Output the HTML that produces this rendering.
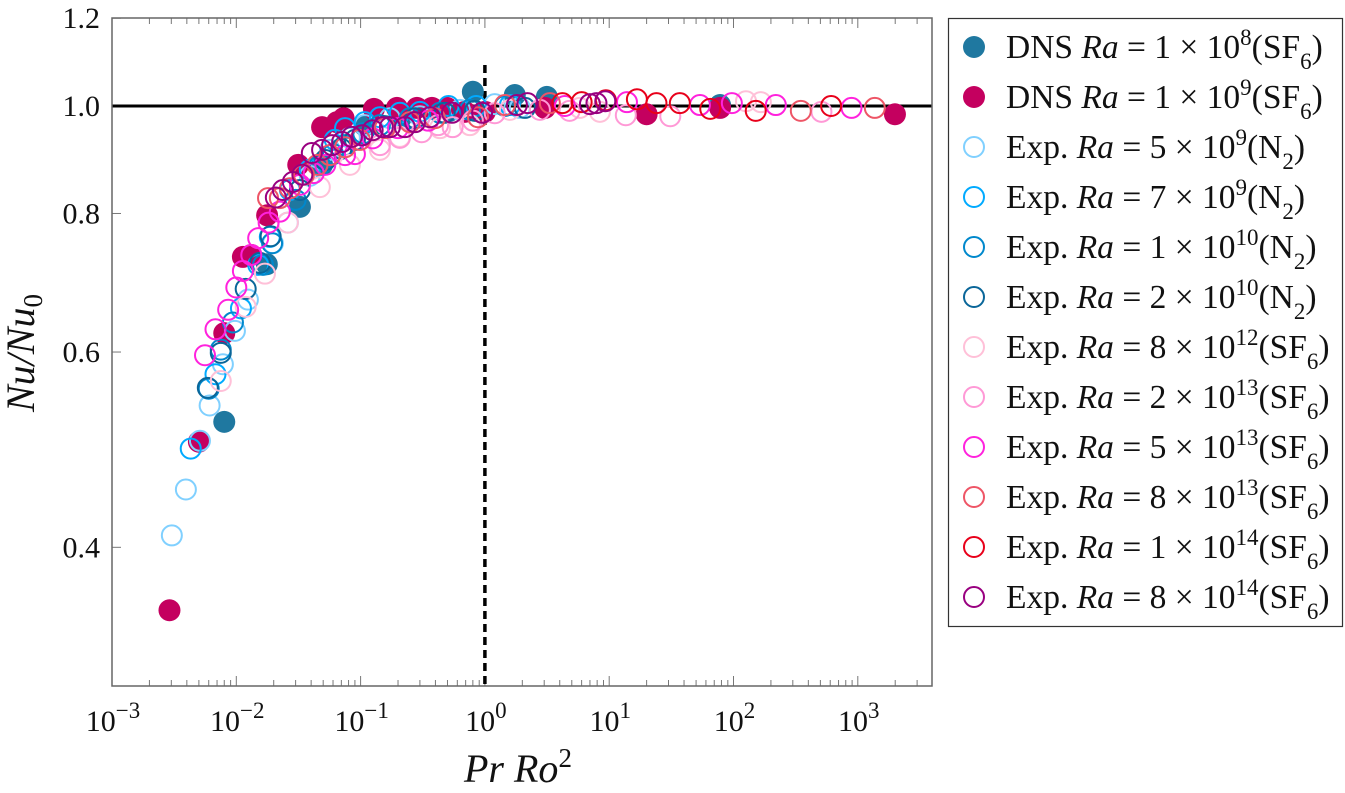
<!DOCTYPE html>
<html>
<head>
<meta charset="utf-8">
<title>Nu/Nu0 versus Pr Ro2</title>
<style>
html,body{margin:0;padding:0;background:#fff;}
svg{display:block;}
text{font-family:"Liberation Serif",serif;fill:#111;}
.tick{font-size:30px;}
.leg{font-size:33.5px;}
.it{font-style:italic;}
</style>
</head>
<body>
<svg id="chart" xmlns="http://www.w3.org/2000/svg" width="1345" height="793" viewBox="0 0 1345 793">
<rect width="1345" height="793" fill="#fff"/>
<g id="ticks"></g>
<line id="refH" stroke="#000" stroke-width="3"/>
<line id="refV" stroke="#000" stroke-width="3.5" stroke-dasharray="8 5"/>
<g id="marksOver"></g>
<rect x="112" y="18" width="820" height="668" fill="none" stroke="#666" stroke-width="1.5"/>
<g id="labels"></g>
<text x="464" y="782" font-size="40" class="it">Pr Ro<tspan dy="-15" font-size="27" font-style="normal">2</tspan></text>
<text transform="translate(34,412) rotate(-90)" font-size="40" class="it">Nu/Nu<tspan dy="8" font-size="27" font-style="normal">0</tspan></text>

<g>
<rect x="948.5" y="18.5" width="394" height="608" fill="#fff" stroke="#333" stroke-width="1.2"/>
<g><circle cx="974" cy="47" r="11" fill="#1f78a0"/><text class="leg" x="1006" y="58">DNS <tspan class="it">Ra</tspan> = 1 × 10<tspan dy="-13" font-size="23">8</tspan><tspan dy="13">(SF</tspan><tspan dy="11" font-size="23">6</tspan><tspan dy="-11">)</tspan></text></g>
<g><circle cx="974" cy="97" r="11" fill="#c4005f"/><text class="leg" x="1006" y="108">DNS <tspan class="it">Ra</tspan> = 1 × 10<tspan dy="-13" font-size="23">9</tspan><tspan dy="13">(SF</tspan><tspan dy="11" font-size="23">6</tspan><tspan dy="-11">)</tspan></text></g>
<g><circle cx="974" cy="147" r="10" fill="none" stroke="#80d0ff" stroke-width="2"/><text class="leg" x="1006" y="158">Exp. <tspan class="it">Ra</tspan> = 5 × 10<tspan dy="-13" font-size="23">9</tspan><tspan dy="13">(N</tspan><tspan dy="11" font-size="23">2</tspan><tspan dy="-11">)</tspan></text></g>
<g><circle cx="974" cy="197" r="10" fill="none" stroke="#00aaff" stroke-width="2"/><text class="leg" x="1006" y="208">Exp. <tspan class="it">Ra</tspan> = 7 × 10<tspan dy="-13" font-size="23">9</tspan><tspan dy="13">(N</tspan><tspan dy="11" font-size="23">2</tspan><tspan dy="-11">)</tspan></text></g>
<g><circle cx="974" cy="247" r="10" fill="none" stroke="#0088cc" stroke-width="2"/><text class="leg" x="1006" y="258">Exp. <tspan class="it">Ra</tspan> = 1 × 10<tspan dy="-13" font-size="23">10</tspan><tspan dy="13">(N</tspan><tspan dy="11" font-size="23">2</tspan><tspan dy="-11">)</tspan></text></g>
<g><circle cx="974" cy="297" r="10" fill="none" stroke="#0a6699" stroke-width="2"/><text class="leg" x="1006" y="308">Exp. <tspan class="it">Ra</tspan> = 2 × 10<tspan dy="-13" font-size="23">10</tspan><tspan dy="13">(N</tspan><tspan dy="11" font-size="23">2</tspan><tspan dy="-11">)</tspan></text></g>
<g><circle cx="974" cy="347" r="10" fill="none" stroke="#ffc0d8" stroke-width="2"/><text class="leg" x="1006" y="358">Exp. <tspan class="it">Ra</tspan> = 8 × 10<tspan dy="-13" font-size="23">12</tspan><tspan dy="13">(SF</tspan><tspan dy="11" font-size="23">6</tspan><tspan dy="-11">)</tspan></text></g>
<g><circle cx="974" cy="397" r="10" fill="none" stroke="#ff99d6" stroke-width="2"/><text class="leg" x="1006" y="408">Exp. <tspan class="it">Ra</tspan> = 2 × 10<tspan dy="-13" font-size="23">13</tspan><tspan dy="13">(SF</tspan><tspan dy="11" font-size="23">6</tspan><tspan dy="-11">)</tspan></text></g>
<g><circle cx="974" cy="447" r="10" fill="none" stroke="#ff22dd" stroke-width="2"/><text class="leg" x="1006" y="458">Exp. <tspan class="it">Ra</tspan> = 5 × 10<tspan dy="-13" font-size="23">13</tspan><tspan dy="13">(SF</tspan><tspan dy="11" font-size="23">6</tspan><tspan dy="-11">)</tspan></text></g>
<g><circle cx="974" cy="497" r="10" fill="none" stroke="#ee5566" stroke-width="2"/><text class="leg" x="1006" y="508">Exp. <tspan class="it">Ra</tspan> = 8 × 10<tspan dy="-13" font-size="23">13</tspan><tspan dy="13">(SF</tspan><tspan dy="11" font-size="23">6</tspan><tspan dy="-11">)</tspan></text></g>
<g><circle cx="974" cy="547" r="10" fill="none" stroke="#e8001a" stroke-width="2"/><text class="leg" x="1006" y="558">Exp. <tspan class="it">Ra</tspan> = 1 × 10<tspan dy="-13" font-size="23">14</tspan><tspan dy="13">(SF</tspan><tspan dy="11" font-size="23">6</tspan><tspan dy="-11">)</tspan></text></g>
<g><circle cx="974" cy="597" r="10" fill="none" stroke="#990080" stroke-width="2"/><text class="leg" x="1006" y="608">Exp. <tspan class="it">Ra</tspan> = 8 × 10<tspan dy="-13" font-size="23">14</tspan><tspan dy="13">(SF</tspan><tspan dy="11" font-size="23">6</tspan><tspan dy="-11">)</tspan></text></g>
</g>
</svg>
<script>
const xTickExponents = [-3, -2, -1, 0, 1, 2, 3];
const yTickValues = [0.4, 0.6, 0.8, 1.0, 1.2];

const dns1e8X = [0.008, 0.0176, 0.0325, 0.049, 0.108, 0.21, 0.52, 0.80, 1.74, 3.15, 78];
const dns1e8Y = [0.519, 0.72, 0.811, 0.885, 0.96, 0.975, 0.99, 1.03, 1.023, 1.019, 1.002];
const dns1e9X = [0.0029, 0.005, 0.008, 0.0113, 0.0132, 0.0177, 0.0315, 0.049, 0.0645, 0.073, 0.128, 0.196, 0.284, 0.375, 0.495, 0.69, 1, 3.04, 20, 78, 1990];
const dns1e9Y = [0.351, 0.498, 0.624, 0.731, 0.734, 0.797, 0.885, 0.957, 0.967, 0.975, 0.994, 0.996, 0.996, 0.996, 0.996, 0.988, 0.988, 0.996, 0.983, 0.996, 0.983];
const exp5e9X = [0.00303, 0.00393, 0.0051, 0.0061, 0.0078, 0.00975, 0.0124, 0.0197, 0.026, 0.039, 0.0566, 0.082, 0.108, 0.172, 0.30, 0.63, 1.2, 1.91];
const exp5e9Y = [0.41, 0.451, 0.499, 0.537, 0.585, 0.627, 0.669, 0.752, 0.785, 0.865, 0.913, 0.936, 0.961, 0.975, 0.979, 0.992, 1.004, 0.996];
const exp7e9X = [0.0043, 0.0068, 0.0109, 0.015, 0.0186, 0.027, 0.039, 0.062, 0.075, 0.108, 0.143, 0.207, 0.30, 0.51, 0.85, 1.59];
const exp7e9Y = [0.491, 0.573, 0.657, 0.719, 0.762, 0.84, 0.876, 0.932, 0.955, 0.967, 0.977, 0.986, 0.988, 1.0, 1.0, 1.002];
const exp1e10X = [0.006, 0.0075, 0.0094, 0.0164, 0.0194, 0.03, 0.047, 0.06, 0.075, 0.105, 0.143, 0.249, 0.435, 0.757, 1.45];
const exp1e10Y = [0.556, 0.603, 0.638, 0.719, 0.752, 0.823, 0.885, 0.905, 0.922, 0.945, 0.961, 0.975, 0.986, 0.992, 1.0];
const exp2e10X = [0.0059, 0.0075, 0.0119, 0.0155, 0.0189, 0.0325, 0.052, 0.07, 0.09, 0.157, 0.275, 0.475, 0.83, 2.1];
const exp2e10Y = [0.557, 0.599, 0.684, 0.722, 0.763, 0.84, 0.894, 0.915, 0.932, 0.959, 0.975, 0.986, 0.99, 0.996];
const exp8e12X = [0.0075, 0.0119, 0.017, 0.026, 0.047, 0.082, 0.143, 0.207, 0.435, 0.757, 1.59, 5.8, 8.42, 126, 166];
const exp8e12Y = [0.565, 0.659, 0.706, 0.785, 0.845, 0.885, 0.913, 0.938, 0.955, 0.961, 0.992, 0.996, 0.988, 1.01, 1.008];
const exp2e13X = [0.143, 0.207, 0.31, 0.42, 0.55, 0.8, 1.2, 2.77, 4.8, 13.6, 31, 510];
const exp2e13Y = [0.922, 0.936, 0.947, 0.961, 0.957, 0.97, 0.985, 0.992, 0.99, 0.981, 0.979, 0.988];
const exp5e13X = [0.0056, 0.0068, 0.0086, 0.01, 0.0113, 0.0132, 0.015, 0.0182, 0.0224, 0.0325, 0.042, 0.052, 0.075, 0.09, 0.125, 0.2, 0.35, 4.4, 13.9, 53.7, 97, 219, 890];
const exp5e13Y = [0.596, 0.629, 0.655, 0.686, 0.71, 0.734, 0.76, 0.785, 0.803, 0.849, 0.87, 0.885, 0.903, 0.905, 0.935, 0.955, 0.97, 1.0, 1.008, 1.002, 1.006, 1.002, 0.996];
const exp8e13X = [0.018, 0.0224, 0.027, 0.035, 0.045, 0.0566, 0.075, 0.0987, 0.157, 0.249, 0.396, 0.88, 1.45, 3.33, 348, 1370];
const exp8e13Y = [0.826, 0.826, 0.843, 0.867, 0.885, 0.903, 0.918, 0.932, 0.955, 0.967, 0.975, 0.977, 1.002, 1.006, 0.99, 0.996];
const exp1e14X = [4.2, 6, 9.4, 16.7, 24, 37, 65, 151, 610];
const exp1e14Y = [1.006, 1.008, 1.012, 1.014, 1.006, 1.006, 0.994, 0.99, 1.0];
const exp8e14X = [0.0208, 0.0237, 0.0285, 0.034, 0.0405, 0.049, 0.059, 0.071, 0.085, 0.103, 0.125, 0.151, 0.172, 0.227, 0.274, 0.361, 0.543, 0.95, 1.81, 2.2, 7, 7.9, 9.3];
const exp8e14Y = [0.827, 0.84, 0.854, 0.867, 0.907, 0.913, 0.922, 0.928, 0.938, 0.941, 0.951, 0.957, 0.957, 0.957, 0.967, 0.977, 0.986, 0.986, 1.002, 1.006, 1.004, 1.006, 1.01];

const NS = 'http://www.w3.org/2000/svg';
function xScale(v) { return 112 + (Math.log10(v) + 3) * 124.3; }
function yScale(v) { return 106 - Math.log10(v) * 1109; }

const refH = document.getElementById('refH');
refH.setAttribute('x1', 112);
refH.setAttribute('x2', 932);
refH.setAttribute('y1', yScale(1));
refH.setAttribute('y2', yScale(1));
const refV = document.getElementById('refV');
refV.setAttribute('x1', xScale(1));
refV.setAttribute('x2', xScale(1));
refV.setAttribute('y1', 65);
refV.setAttribute('y2', 686);

const ticks = document.getElementById('ticks');
function addTick(x1, y1, x2, y2) {
  const l = document.createElementNS(NS, 'line');
  l.setAttribute('x1', x1);
  l.setAttribute('y1', y1);
  l.setAttribute('x2', x2);
  l.setAttribute('y2', y2);
  l.setAttribute('stroke', '#777');
  l.setAttribute('stroke-width', '1');
  
  
  ticks.appendChild(l);
}
xTickExponents.forEach(function (e) {
  for (let m = 1; m < 10; m++) {
    const v = m * Math.pow(10, e);
    const px = xScale(v);
    if (px > 932) break;
    const len = m === 1 ? 10 : 6;
    addTick(px, 686, px, 686 - len);
    addTick(px, 18, px, 18 + len);
  }
});
yTickValues.forEach(function (v) {
  addTick(112, yScale(v), 121, yScale(v));
});

const labels = document.getElementById('labels');
xTickExponents.forEach(function (e) {
  const t = document.createElementNS(NS, 'text');
  t.setAttribute('class', 'tick');
  t.setAttribute('text-anchor', 'middle');
  t.setAttribute('x', xScale(Math.pow(10, e)) + 1);
  t.setAttribute('y', 731);
  
  
  t.appendChild(document.createTextNode('10'));
  const s = document.createElementNS(NS, 'tspan');
  s.setAttribute('dy', '-13');
  s.setAttribute('font-size', '23');
  s.textContent = String(e).replace('-', '\u2212');
  t.appendChild(s);
  labels.appendChild(t);
});
yTickValues.forEach(function (v) {
  const t = document.createElementNS(NS, 'text');
  t.setAttribute('class', 'tick');
  t.setAttribute('text-anchor', 'end');
  t.setAttribute('x', 100);
  t.setAttribute('y', yScale(v) + 10);
  
  
  t.textContent = v.toFixed(1);
  labels.appendChild(t);
});

const marksOver = document.getElementById('marksOver');
function drawSeries(parent, xs, ys, name, color, filled) {
  xs.forEach(function (xv, i) {
    const c = document.createElementNS(NS, 'circle');
    c.setAttribute('cx', xScale(xv));
    c.setAttribute('cy', yScale(ys[i]));
    c.setAttribute('r', filled ? 11 : 10);
    c.setAttribute('fill', filled ? color : 'none');
    if (!filled) {
      c.setAttribute('stroke', color);
      c.setAttribute('stroke-width', '2');
    }
    
    
    parent.appendChild(c);
  });
}
drawSeries(marksOver, dns1e8X, dns1e8Y, 'point-dns-1e8', '#1f78a0', true);
drawSeries(marksOver, dns1e9X, dns1e9Y, 'point-dns-1e9', '#c4005f', true);
drawSeries(marksOver, exp5e9X, exp5e9Y, 'point-exp-5e9', '#80d0ff', false);
drawSeries(marksOver, exp7e9X, exp7e9Y, 'point-exp-7e9', '#00aaff', false);
drawSeries(marksOver, exp1e10X, exp1e10Y, 'point-exp-1e10', '#0088cc', false);
drawSeries(marksOver, exp2e10X, exp2e10Y, 'point-exp-2e10', '#0a6699', false);
drawSeries(marksOver, exp8e12X, exp8e12Y, 'point-exp-8e12', '#ffc0d8', false);
drawSeries(marksOver, exp2e13X, exp2e13Y, 'point-exp-2e13', '#ff99d6', false);
drawSeries(marksOver, exp5e13X, exp5e13Y, 'point-exp-5e13', '#ff22dd', false);
drawSeries(marksOver, exp8e13X, exp8e13Y, 'point-exp-8e13', '#ee5566', false);
drawSeries(marksOver, exp1e14X, exp1e14Y, 'point-exp-1e14', '#e8001a', false);
drawSeries(marksOver, exp8e14X, exp8e14Y, 'point-exp-8e14', '#990080', false);
</script>
</body>
</html>
